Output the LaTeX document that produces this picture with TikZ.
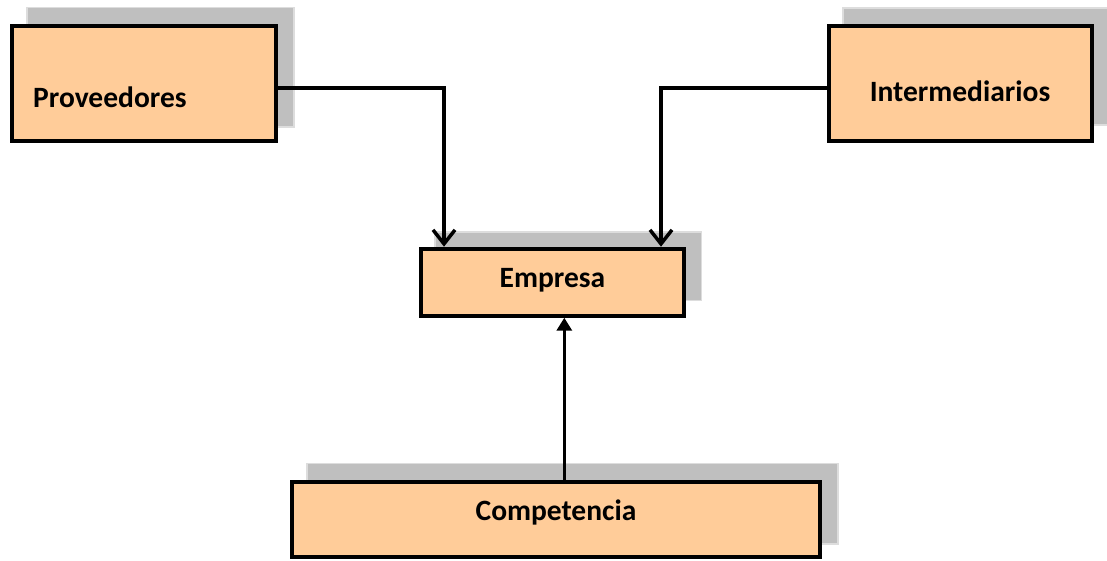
\documentclass[tikz,border=0pt]{standalone}
\usepackage{fontspec}
\setmainfont{Carlito}
\usetikzlibrary{arrows.meta}
\definecolor{peach}{HTML}{FFCC99}
\definecolor{shadowgray}{HTML}{BFBFBF}
\definecolor{shadowedge}{HTML}{DDDDDD}
\tikzset{
  boxshape/.style={draw=black, line width=4pt, fill=peach},
  shadowshape/.style={draw=shadowedge, line width=1.2pt, fill=shadowgray},
  label/.style={inner sep=0pt, font=\fontsize{29.5}{34}\selectfont\bfseries},
  conn/.style={draw=black, line width=3.5pt},
}
\begin{document}
\begin{tikzpicture}[x=1pt,y=-1pt]
\useasboundingbox (0,0) rectangle (1107,560);
% shadows
\fill[shadowshape] (27,7.5) rectangle (294,127);
\fill[shadowshape] (843,8) rectangle (1112,125);
\fill[shadowshape] (435,232) rectangle (701.5,300.5);
\fill[shadowshape] (307,463.5) rectangle (838,544);
% boxes
\node[boxshape, minimum width=264pt, minimum height=115pt, inner sep=0pt] (prov) at (144,83.5) {};
\node[boxshape, minimum width=263.5pt, minimum height=114.5pt, inner sep=0pt] (inter) at (960.3,83.4) {};
\node[boxshape, minimum width=263pt, minimum height=67pt, inner sep=0pt] (emp) at (552.5,282.2) {};
\node[boxshape, minimum width=528pt, minimum height=75pt, inner sep=0pt] (comp) at (556,519) {};
% labels
\node[label, anchor=base west] (tprov) at (33,107) {Proveedores};
\node[label, anchor=base] (tinter) at (960,101.7) {Intermediarios};
\node[label, anchor=base] (temp) at (552.5,287.3) {Empresa};
\node[label, anchor=base] (tcomp) at (556,520.7) {Competencia};
% connectors
\coordinate (c1) at (444,88);
\coordinate (c2) at (661,88);
\draw[conn, -{Straight Barb[length=14pt, width=22pt, line width=3.5pt]}] (prov.east |- c1) -- (c1) -- (c1 |- emp.north);
\draw[conn, -{Straight Barb[length=14pt, width=22pt, line width=3.5pt]}] (inter.west |- c2) -- (c2) -- (c2 |- emp.north);
\draw[conn, -{Triangle[length=13pt, width=15pt]}] (comp.north -| 564.3,0) -- (emp.south -| 564.3,0);
\end{tikzpicture}
\end{document}
